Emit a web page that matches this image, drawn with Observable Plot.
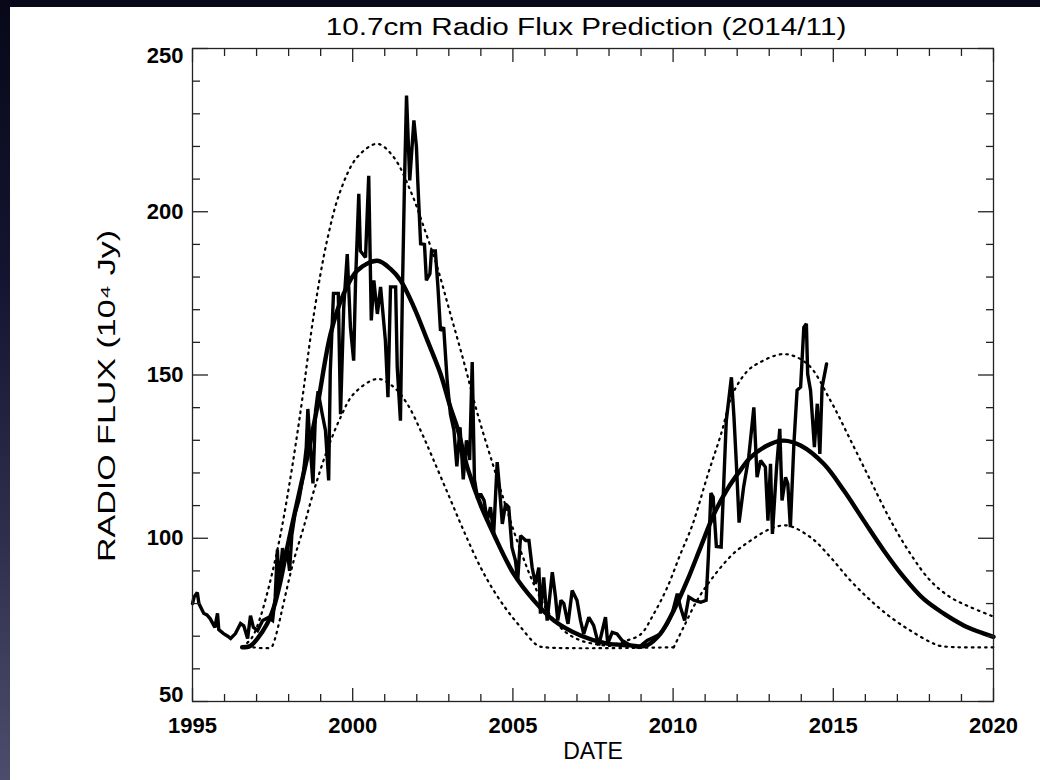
<!DOCTYPE html>
<html>
<head>
<meta charset="utf-8">
<script src="https://cdn.jsdelivr.net/npm/d3@7"></script>
<script src="https://cdn.jsdelivr.net/npm/@observablehq/plot@0.6"></script>
<style>
html, body { margin: 0; padding: 0; width: 1040px; height: 780px; overflow: hidden; }
body { background: linear-gradient(to bottom, #08081a 0%, #141430 35%, #30304e 70%, #4c4c6c 100%); position: relative; }
#panel { position: absolute; left: 10px; top: 7px; width: 1030px; height: 773px; background: #fff; }
#title { position: absolute; left: 576px; top: 9px; transform: translateX(-50%) scaleX(1.29); white-space: nowrap;
  font: 23px "Liberation Sans", Arial, sans-serif; color: #000; line-height: 1; }
#chart { position: absolute; left: 0; top: 33px; }
</style>
</head>
<body>
<div id="panel">
  <div id="title"></div>
  <div id="chart"></div>
</div>
<script>
// Observed monthly 10.7cm flux
const obsYear = [1995.00,1995.05,1995.15,1995.20,1995.35,1995.45,1995.55,1995.70,1995.78,1995.82,1995.97,1996.10,1996.19,1996.34,1996.50,1996.60,1996.72,1996.81,1996.90,1997.03,1997.19,1997.37,1997.50,1997.58,1997.65,1997.70,1997.81,1997.88,1997.95,1998.03,1998.10,1998.20,1998.32,1998.45,1998.55,1998.60,1998.66,1998.76,1998.84,1998.92,1999.05,1999.15,1999.25,1999.30,1999.40,1999.55,1999.62,1999.72,1999.83,1999.93,2000.03,2000.09,2000.19,2000.24,2000.40,2000.50,2000.58,2000.66,2000.77,2000.87,2001.02,2001.10,2001.18,2001.34,2001.39,2001.49,2001.55,2001.62,2001.68,2001.78,2001.91,2001.99,2002.03,2002.12,2002.24,2002.30,2002.41,2002.46,2002.58,2002.66,2002.74,2002.84,2002.95,2003.05,2003.16,2003.25,2003.35,2003.45,2003.55,2003.65,2003.73,2003.80,2003.90,2003.99,2004.10,2004.20,2004.30,2004.40,2004.51,2004.58,2004.67,2004.77,2004.87,2004.97,2005.08,2005.15,2005.24,2005.40,2005.50,2005.60,2005.70,2005.81,2005.86,2005.96,2006.07,2006.23,2006.33,2006.40,2006.50,2006.59,2006.72,2006.85,2007.00,2007.11,2007.21,2007.37,2007.52,2007.68,2007.89,2007.96,2008.10,2008.25,2008.41,2008.67,2008.93,2009.19,2009.40,2009.60,2009.82,2009.97,2010.13,2010.23,2010.36,2010.49,2010.65,2010.86,2011.03,2011.10,2011.18,2011.25,2011.35,2011.50,2011.66,2011.82,2011.90,2011.98,2012.06,2012.20,2012.36,2012.52,2012.62,2012.73,2012.88,2012.96,2013.04,2013.10,2013.23,2013.33,2013.40,2013.51,2013.58,2013.66,2013.77,2013.87,2013.98,2014.08,2014.16,2014.20,2014.29,2014.41,2014.50,2014.58,2014.65,2014.79];
const obsFlux = [80,82,83.4,80,77,76.5,75.4,72.7,77,72,70.8,70,69.3,70.8,73.9,73.2,69.3,76.3,72.7,71.7,74.8,75.7,74.8,81.8,96.5,85,97,93,97,90,101,107.5,111.6,119,127.8,139.6,130,116.8,139,145,138,133,117.7,151,175,175,138,170.8,187,164.6,154.4,179,205.5,188,186,211,166.7,179,168.7,177,160.6,143.2,177,177,152.4,136,174.9,210.6,235.6,209.6,228,219.8,209.6,190.2,190,179,181,188,188,177,163.6,164.6,148,138,133,122,134,118,130,124,154,118,112,113.6,111.6,105.4,109.5,101.3,123.3,115.6,104.4,110.5,109.5,97.2,93.2,87,100.8,99.3,99.3,91.1,86,91,76.9,88,74.8,89.6,82,74.8,81,80,73.8,84,81,74.8,70.7,75.8,73.3,67.2,75.8,67.7,71.2,70.7,68.7,67.2,66.6,68.7,69.7,70.7,73.8,76.9,83,78.9,74.8,82,81,80.4,81,94.2,113.8,112.6,97.5,97.3,136,149.3,137,121.8,104.8,115.6,124.8,140.1,118.7,123.8,121.8,105.4,122.8,101.3,121.8,133.5,111.6,118.7,116.7,103.4,128.9,145.3,146.3,164.6,165.7,150.3,145.3,127.9,141.2,125.8,146.3,153.4];

// Predicted (smoothed) flux, cycles 23 and 24
const smoothYear23 = [1996.55,1996.80,1997.02,1997.33,1997.54,1997.75,1997.96,1998.16,1998.37,1998.58,1998.89,1999.31,1999.72,2000.14,2000.77,2001.18,2001.49,2001.91,2002.33,2002.74,2003.05,2003.26,2003.60,2004.00,2004.40,2005.03,2005.65,2006.28,2007.11,2007.94,2008.67,2008.98];
const smoothFlux23 = [66.6,67.0,69.2,73.8,78.9,87,97.3,106.4,115.6,124.8,140,162.6,174.9,182,185,182.5,179,170.8,160.6,150.4,140.1,134,121,110,101.3,89,81,74.8,70.2,67.7,67.2,66.8];
const smoothYear24 = [2008.98,2009.19,2009.60,2010.02,2010.44,2010.86,2011.28,2011.69,2012.10,2012.42,2013.04,2013.46,2013.98,2014.70,2015.33,2015.95,2016.58,2017.20,2017.82,2018.45,2019.07,2019.50,2020.00];
const smoothFlux24 = [66.8,67.2,70.7,77.9,87,97.3,107.5,115,120.8,124.8,128.9,129.9,128.4,122.8,114.6,105.4,96.2,88.1,81.4,76.9,73.3,71.5,69.8];

// Upper bound (dotted)
const upperYear23 = [1996.55,1996.85,1997.10,1997.43,1997.75,1998.06,1998.27,1998.42,1998.79,1999.20,1999.62,2000.14,2000.77,2001.28,2001.80,2002.22,2002.64,2003.05,2003.47,2003.90,2004.40,2004.82,2005.24,2005.65,2006.07,2006.59,2007.11,2007.63,2008.00];
const upperFlux23 = [66.6,69.5,75.3,87,101.3,118.7,132,142.2,168.7,191.2,206.5,216.7,220.8,216.7,206.5,195.3,183,168.7,154,138,121.8,108.5,96.2,86,77.9,71.7,68.7,67.5,67.0];
const upperYear24 = [2008.00,2008.50,2008.98,2009.40,2009.82,2010.23,2010.60,2011.10,2011.50,2011.85,2012.30,2012.62,2013.46,2014.19,2014.91,2015.54,2016.16,2016.79,2017.41,2018.03,2018.66,2019.28,2020.00];
const upperFlux24 = [67.0,68.5,70.5,76.9,85,95.2,104,120,132,144,151,153.4,156.4,153.4,142.2,130,117.7,105.4,95.2,87,81.9,78.9,76];

// Lower bound (dotted)
const lowerYear23 = [1996.90,1997.45,1997.55,1997.70,1997.85,1998.16,1998.47,1998.79,1999.20,1999.62,2000.03,2000.77,2001.28,2001.70,2002.12,2002.50,2003.00,2003.50,2003.99,2004.40,2004.82,2005.24,2005.76,2006.00,2010.02];
const lowerFlux23 = [66.6,66.6,68.5,74,80.5,93.2,103.4,114.6,126.9,137,144.2,148.8,146.3,141.2,133,124.5,113,101.5,91.1,84,77.9,72.8,67.2,66.6,66.6];
const lowerYear24 = [2010.02,2010.33,2010.75,2011.20,2011.85,2012.42,2013.04,2013.56,2014.29,2014.91,2015.54,2016.16,2016.79,2017.41,2018.03,2018.35,2020.00];
const lowerFlux24 = [66.6,72.8,81,87.5,95,99.3,102.9,103.9,100.3,94.2,87,81,75.8,71.7,68.2,67.0,66.6];

// Axis ticks and texts
const xMajor = [1995, 2000, 2005, 2010, 2015, 2020];
const xMinor = [1996,1997,1998,1999,2001,2002,2003,2004,2006,2007,2008,2009,2011,2012,2013,2014,2016,2017,2018,2019];
const yMajor = [50, 100, 150, 200, 250];
const yMinor = [60,70,80,90,110,120,130,140,160,170,180,190,210,220,230,240];
const yLabelsMid = [100, 150, 200];
const titleText = "10.7cm Radio Flux Prediction (2014/11)";
const xTitle = "DATE";
const yTitle = "RADIO FLUX (10\u2074 Jy)";

document.getElementById("title").textContent = titleText;

const pairs = (xs, ys, c) => xs.map((x, i) => ({x, y: ys[i], c}));
const obs = pairs(obsYear, obsFlux, "obs");
const smooth = [...pairs(smoothYear23, smoothFlux23, "23"), ...pairs(smoothYear24, smoothFlux24, "24")];
const upper = [...pairs(upperYear23, upperFlux23, "23"), ...pairs(upperYear24, upperFlux24, "24")];
const lower = [...pairs(lowerYear23, lowerFlux23, "23"), ...pairs(lowerYear24, lowerFlux24, "24")];

const font = "'Liberation Sans', Arial, Helvetica, sans-serif";
const blank = () => "";
const tickAxisX = (ticks, anchor, size) => Plot.axisX(ticks, {anchor, tickSize: -size, tickFormat: blank, label: null, stroke: "#222", strokeWidth: 1.3});
const tickAxisY = (ticks, anchor, size) => Plot.axisY(ticks, {anchor, tickSize: -size, tickFormat: blank, label: null, stroke: "#222", strokeWidth: 1.3});
const lblY = {anchor: "left", tickSize: 0, tickPadding: 9, label: null, fontSize: 22, fontWeight: "bold", tickFormat: d => String(d)};
const dotted = {x: "x", y: "y", z: "c", stroke: "#000", strokeWidth: 2.2, strokeDasharray: "1.6,5", curve: "catmull-rom"};

const chart = Plot.plot({
  width: 1030,
  height: 740,
  marginLeft: 182,
  marginRight: 47,
  marginTop: 8,
  marginBottom: 79,
  x: {domain: [1995, 2020]},
  y: {domain: [50, 250]},
  style: {background: "transparent", color: "#000", fontFamily: font},
  marks: [
    Plot.line(upper, dotted),
    Plot.line(lower, dotted),
    Plot.line(smooth, {x: "x", y: "y", z: "c", stroke: "#000", strokeWidth: 4.4, curve: "catmull-rom"}),
    Plot.line(obs, {x: "x", y: "y", stroke: "#000", strokeWidth: 3.4, strokeLinejoin: "miter", strokeMiterlimit: 2}),
    Plot.frame({stroke: "#222", strokeWidth: 1.3}),
    tickAxisX(xMinor, "bottom", 7), tickAxisX(xMajor, "bottom", 13),
    tickAxisX(xMinor, "top", 7), tickAxisX(xMajor, "top", 13),
    tickAxisY(yMinor, "left", 8), tickAxisY(yMajor, "left", 16),
    tickAxisY(yMinor, "right", 8), tickAxisY(yMajor, "right", 16),
    Plot.axisX(xMajor, {anchor: "bottom", tickSize: 0, tickPadding: 16, label: null, fontSize: 22, fontWeight: "bold", tickFormat: d => String(d)}),
    Plot.axisY(yLabelsMid, lblY),
    Plot.axisY([250], {...lblY, dy: 7}),
    Plot.axisY([50], {...lblY, dy: -7}),
    Plot.text([xTitle], {frameAnchor: "bottom", dy: 50, fontSize: 23, lineAnchor: "middle", textAnchor: "middle"}),
    Plot.text([yTitle], {frameAnchor: "left", dx: -85, dy: 21, rotate: -90, fontSize: 23, lineAnchor: "middle", textAnchor: "middle", className: "ylab"})
  ]
});
// stretch the rotated axis title along its baseline like the original
d3.select(chart).selectAll(".ylab text").attr("textLength", 332).attr("lengthAdjust", "spacingAndGlyphs");
document.getElementById("chart").appendChild(chart);
</script>
</body>
</html>
